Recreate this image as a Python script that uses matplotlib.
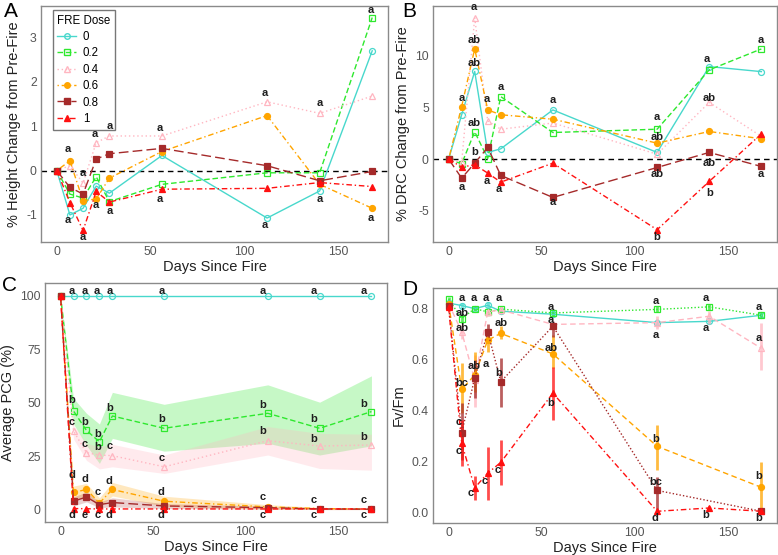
import numpy as np
import matplotlib
matplotlib.use('Agg')
import matplotlib.pyplot as plt
from matplotlib.lines import Line2D

plt.rcParams['font.family'] = ['Liberation Sans', 'DejaVu Sans']
plt.rcParams['axes.unicode_minus'] = False

nan = np.nan
days = [0, 7, 14, 21, 28, 56, 112, 140, 168]
doses = ['0', '0.2', '0.4', '0.6', '0.8', '1']

# ---- Panel A: % height change ----
A_0 = [0, -1.00, -0.85, -0.35, -0.51, 0.34, -1.07, -0.46, 2.70]
A_02 = [0, -0.53, -0.62, -0.14, -0.70, -0.31, -0.05, -0.05, 3.45]
A_04 = [0, 0.11, -0.28, 0.63, 0.78, 0.78, 1.55, 1.29, 1.68]
A_06 = [0, 0.22, -0.68, -0.64, -0.17, 0.43, 1.24, -0.31, -0.85]
A_08 = [0, -0.38, -0.53, 0.26, 0.38, 0.50, 0.11, -0.23, -0.02]
A_1 = [0, -0.72, -1.35, -0.47, -0.71, -0.42, -0.40, -0.27, -0.36]
A_let_x = [6, 6, 14, 14, 20, 21, 28, 28, 55, 55, 111, 111, 140, 140, 167, 167]
A_let_y = [0.49, -1.11, -0.05, -1.49, 0.82, -0.77, 1.01, -0.90, 0.97, -0.65,
           1.76, -1.23, 1.52, -0.65, 3.62, -1.07]
A_let_t = ['a'] * 16

# ---- Panel B: % DRC change ----
B_0 = [0, 4.3, 8.5, 0.65, 1.0, 4.77, 0.65, 8.97, 8.48]
B_02 = [0, -0.45, 2.65, 0.06, 6.06, 2.58, 2.9, 8.65, 10.68]
B_04 = [0, -0.3, 13.7, 3.7, 2.9, 3.5, 0.48, 5.5, 2.2]
B_06 = [0, 5.1, 10.7, 4.77, 4.3, 3.87, 1.55, 2.68, 1.97]
B_08 = [0, -1.84, -0.39, 1.13, -1.58, -3.71, -0.81, 0.65, -0.71]
B_1 = [0, -0.77, -0.55, -1.35, -2.23, -0.39, -6.84, -2.16, 2.45]
B_let_x = [7, 7, 13.5, 13.5, 13.5, 13.5, 14, 20.5, 20.5, 28, 27, 56, 56,
           112, 112, 112, 112, 138.5, 140, 140, 140, 167.5, 167.5]
B_let_y = [5.9, -2.74, 14.7, 11.55, 9.29, 3.55, 0.68, 5.81, -2.16, 6.97, -2.87,
           5.74, -4.16, 4.13, 2.13, -1.42, -7.55, 9.68, 5.9, -0.39, -3.29,
           11.55, -1.42]
B_let_t = ['a', 'a', 'a', 'ab', 'ab', 'ab', 'b', 'a', 'a', 'a', 'a', 'a', 'a',
           'a', 'ab', 'ab', 'b', 'a', 'ab', 'ab', 'b', 'a', 'a']

# ---- Panel C: average PCG (%) with bands ----
C_0 = [100, 100, 100, 100, 100, 100, 100, 100, 100]
C_02 = [100, 46.1, 37.0, 31.7, 43.75, 38.0, 45.0, 38.0, 45.8]
C_04 = [100, 36.7, 26.6, 25.5, 25.2, 20.0, 32.2, 29.7, 30.2]
C_06 = [100, 8.0, 9.4, 3.1, 9.4, 3.9, 1.25, 0.5, 0.2]
C_08 = [100, 3.9, 5.9, 2.3, 3.3, 1.7, 0.9, 0.3, 0.2]
C_1 = [100, 0.5, 0.4, 0.3, 0.3, 0.3, 0.3, 0.3, 0.3]
C_02_lo = [100, 40, 30, 21.6, 33.3, 27.3, 31, 25.5, 29.8]
C_02_hi = [100, 52, 45, 40, 54.8, 49.2, 58.3, 50.2, 62.5]
C_04_lo = [100, 33, 23, 19, 20, 16.9, 25.5, 19.2, 18.4]
C_04_hi = [100, 39.5, 31, 29.4, 30.5, 25.5, 38.8, 35.6, 35.2]
C_06_lo = [100, 4.8, 6.4, 1.25, 6.4, 1.5, 0.2, 0, 0]
C_06_hi = [100, 11, 12.2, 5.5, 12.7, 6.25, 2.3, 1.0, 0.5]
C_08_lo = [100, 1.7, 3.6, 0.9, 1.25, 0.5, 0.2, 0, 0]
C_08_hi = [100, 5.9, 8.3, 3.6, 5.5, 2.8, 1.6, 0.6, 0.4]
C_let_days = [6, 13, 19.8, 26.4, 54.5, 109, 137, 164]
C_let_rows = [
    (['a'] * 8, [102] * 8),
    (['b', 'b', 'b', 'b', 'b', 'b', 'b', 'b'], [51.25, 41.1, 35.2, 47.7, 42.2, 48.9, 42.2, 49.2]),
    (['c', 'c', 'b', 'c', 'c', 'b', 'b', 'b'], [41.1, 30.5, 29.1, 29.7, 24.2, 36.9, 33.0, 34.1]),
    (['d', 'd', 'c', 'd', 'd', 'c', 'c', 'c'], [16.1, 14.2, 8.0, 13.3, 8.3, 5.9, 4.4, 4.4]),
    (['d', 'e', 'c', 'd', 'd', 'c', 'c', 'c'], [-2.3] * 8),
]

# ---- Panel D: Fv/Fm ----
D_0 = [0.822, 0.812, 0.80, 0.813, 0.79, 0.778, 0.745, 0.75, 0.774]
D_02 = [0.837, 0.761, 0.80, 0.787, 0.798, 0.783, 0.797, 0.807, 0.774]
D_04 = [0.82, 0.709, 0.52, 0.787, 0.795, 0.738, 0.745, 0.77, 0.644]
D_06 = [0.82, 0.483, 0.539, 0.676, 0.703, 0.622, 0.259, nan, 0.098]
D_08 = [0.81, 0.313, 0.526, 0.709, 0.513, 0.731, 0.086, nan, 0.004]
D_1 = [0.805, 0.272, 0.096, 0.154, 0.196, 0.468, 0.004, 0.017, 0.004]
D_0_lo = [0.812, 0.80, 0.79, 0.80, 0.78, 0.768, 0.73, 0.738, 0.764]
D_0_hi = [0.832, 0.824, 0.81, 0.825, 0.80, 0.788, 0.76, 0.762, 0.784]
D_02_lo = [0.827, 0.745, 0.79, 0.775, 0.788, 0.772, 0.785, 0.795, 0.762]
D_02_hi = [0.847, 0.777, 0.81, 0.80, 0.808, 0.794, 0.809, 0.819, 0.786]
D_04_lo = [0.81, 0.68, 0.415, 0.77, 0.78, 0.72, 0.72, 0.74, 0.559]
D_04_hi = [0.83, 0.74, 0.618, 0.80, 0.81, 0.75, 0.77, 0.79, 0.742]
D_06_lo = [0.81, 0.389, 0.474, 0.63, 0.68, 0.566, 0.167, nan, 0.004]
D_06_hi = [0.83, 0.585, 0.63, 0.716, 0.73, 0.696, 0.344, nan, 0.196]
D_08_lo = [0.80, 0.206, 0.45, 0.67, 0.414, 0.69, 0.01, nan, 0.0]
D_08_hi = [0.82, 0.43, 0.60, 0.74, 0.606, 0.745, 0.14, nan, 0.01]
D_1_lo = [0.79, 0.18, 0.05, 0.05, 0.108, 0.363, 0.0, 0.01, 0.0]
D_1_hi = [0.82, 0.363, 0.141, 0.258, 0.285, 0.572, 0.01, 0.025, 0.01]
D_let_x = [7, 7, 7, 7, 5.4, 5.4, 13.5, 13.5, 11.7, 19.9, 19.9, 19.5,
           27, 28, 27, 26.2, 55, 55, 55, 55,
           111, 111, 111, 111, 111, 138, 138, 138, 166.5, 166.5, 166.5, 166.5]
D_let_y = [0.842, 0.781, 0.725, 0.509, 0.354, 0.239, 0.842, 0.576, 0.076,
           0.842, 0.581, 0.124, 0.842, 0.744, 0.548, 0.167,
           0.807, 0.757, 0.644, 0.428,
           0.829, 0.696, 0.289, 0.119, -0.022, 0.842, 0.725, -0.009,
           0.807, 0.683, 0.144, -0.022]
D_let_t = ['a', 'ab', 'ab', 'bc', 'c', 'c', 'a', 'ab', 'c', 'a', 'a', 'c',
           'a', 'ab', 'b', 'c', 'a', 'a', 'ab', 'b',
           'a', 'a', 'b', 'bc', 'd', 'a', 'a', 'b', 'a', 'a', 'b', 'b']

# ---- styling ----
colors = ['#48D8CC', '#2EE82E', '#FFB6C1', '#FFA500', '#A52A2A', '#FF1010']
markers = ['o', 's', '^', 'o', 's', '^']
filled = [False, False, False, True, True, True]
ls_abc = ['-', (0, (4, 2)), (0, (1, 2)), (0, (1, 2, 4, 2)), (0, (7, 3)), (0, (4, 2, 1, 2))]
ls_d = ['-', (0, (1, 1.5)), (0, (4, 2.5)), (0, (4, 2.5)), (0, (1, 1.5)), (0, (4, 2, 1, 2))]

fig = plt.figure(figsize=(7.78, 5.55), dpi=100)
W, H = 778, 555


def add_ax(l, r, t, b):
    return fig.add_axes([l / W, 1 - b / H, (r - l) / W, (b - t) / H])


axA = add_ax(41, 388, 6, 242)
axB = add_ax(433, 777, 6, 242)
axC = add_ax(45, 387, 283, 522)
axD = add_ax(433, 777, 288, 523)

for ax in (axA, axB, axC, axD):
    ax.set_xlim(-8.4, 176.4)
    ax.set_xticks([0, 50, 100, 150])
    for s in ax.spines.values():
        s.set_color('#8a8a8a')
        s.set_linewidth(1.0)
    ax.tick_params(length=0, labelsize=8.8, labelcolor='#555555', pad=3)
    ax.set_xlabel('Days Since Fire', fontsize=10.5, color='#222222', labelpad=1)


def plot_series(ax, ys, ls_list, ms=4.3):
    d = np.array(days, float)
    for i, y in enumerate(ys):
        y = np.array(y, float)
        m = ~np.isnan(y)
        ax.plot(d[m], y[m], color=colors[i], ls=ls_list[i], lw=1.0,
                marker=markers[i], ms=ms if markers[i] != '^' else ms + 0.5,
                mfc=colors[i] if filled[i] else 'none', mec=colors[i], mew=0.9,
                zorder=3 + i)


def letters(ax, xs, ys, ts):
    for x, y, t in zip(xs, ys, ts):
        ax.text(x, y, t, ha='center', va='center', fontsize=8, fontweight='bold',
                color='#1e1e1e', zorder=20, clip_on=False)


# Panel A
axA.axhline(0, color='black', ls=(0, (4, 3)), lw=1.0, zorder=2)
plot_series(axA, [A_0, A_02, A_04, A_06, A_08, A_1], ls_abc)
letters(axA, A_let_x, A_let_y, A_let_t)
axA.set_ylim(-1.61, 3.71)
axA.set_yticks([-1, 0, 1, 2, 3])
axA.set_ylabel('% Height Change from Pre-Fire', fontsize=10.5, color='#222222', labelpad=4)
handles = [Line2D([], [], color=colors[i], ls=ls_abc[i], lw=1.0, marker=markers[i], ms=4,
                  mfc=colors[i] if filled[i] else 'none', mec=colors[i]) for i in range(6)]
leg = axA.legend(handles, doses, title='FRE Dose', loc='upper left',
                 bbox_to_anchor=(0.034, 0.983), borderaxespad=0, fontsize=8.3,
                 title_fontsize=8.3, handlelength=1.6, handletextpad=0.6,
                 labelspacing=0.38, fancybox=False, borderpad=0.4, frameon=True)
leg.get_frame().set_edgecolor('#555555')
leg.get_frame().set_linewidth(1.0)
leg._legend_box.align = 'left'

# Panel B
axB.axhline(0, color='black', ls=(0, (4, 3)), lw=1.0, zorder=2)
plot_series(axB, [B_0, B_02, B_04, B_06, B_08, B_1], ls_abc)
letters(axB, B_let_x, B_let_y, B_let_t)
axB.set_ylim(-8.03, 14.84)
axB.set_yticks([-5, 0, 5, 10])
axB.set_ylabel('% DRC Change from Pre-Fire', fontsize=10.5, color='#222222', labelpad=4)

# Panel C
band_cols = ['#2EE82E', '#FFB6C1', '#FFA500', '#A52A2A']
band_alpha = [0.27, 0.28, 0.25, 0.22]
for (lo, hi), c, a in zip([(C_02_lo, C_02_hi), (C_04_lo, C_04_hi), (C_06_lo, C_06_hi),
                           (C_08_lo, C_08_hi)], band_cols, band_alpha):
    axC.fill_between(days, lo, hi, color=c, alpha=a, lw=0, zorder=1)
plot_series(axC, [C_0, C_02, C_04, C_06, C_08, C_1], ls_abc)
for ts, ys in C_let_rows:
    letters(axC, C_let_days, ys, ts)
axC.set_ylim(-5.8, 105.9)
axC.set_yticks([0, 25, 50, 75, 100])
axC.set_ylabel('Average PCG (%)', fontsize=10.5, color='#222222', labelpad=4)

# Panel D
Dvals = [D_0, D_02, D_04, D_06, D_08, D_1]
Dlo = [D_0_lo, D_02_lo, D_04_lo, D_06_lo, D_08_lo, D_1_lo]
Dhi = [D_0_hi, D_02_hi, D_04_hi, D_06_hi, D_08_hi, D_1_hi]
d = np.array(days, float)
for i in range(6):
    lo = np.array(Dlo[i], float)
    hi = np.array(Dhi[i], float)
    m = ~np.isnan(lo)
    axD.vlines(d[m], lo[m], hi[m], color=colors[i], lw=2.0, alpha=0.75, zorder=2 + i)
plot_series(axD, Dvals, ls_d)
letters(axD, D_let_x, D_let_y, D_let_t)
axD.set_ylim(-0.042, 0.881)
axD.set_yticks([0.0, 0.2, 0.4, 0.6, 0.8])
axD.set_yticklabels(['0.0', '0.2', '0.4', '0.6', '0.8'])
axD.set_ylabel('Fv/Fm', fontsize=10.5, color='#222222', labelpad=4)

# Panel tags
for txt, x, y in [('A', 4, 2), ('B', 402, 2), ('C', 2, 276), ('D', 402, 280)]:
    fig.text(x / W, 1 - y / H, txt, fontsize=15, ha='left', va='top', color='black')

fig.savefig('out.png', dpi=100)
